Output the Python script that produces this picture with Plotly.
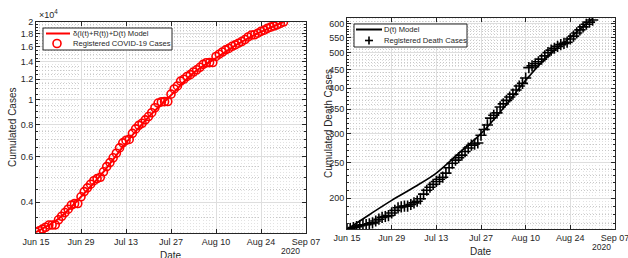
import plotly.graph_objects as go
import pandas as pd
import math

# ---------------- data ----------------
start_date = "2020-06-15"
cases = [3066, 3100, 3148, 3200, 3263, 3265, 3270, 3420, 3530, 3650,
         3760, 3900, 3950, 3955, 4200, 4400, 4550, 4700, 4850, 4940,
         5000, 5250, 5500, 5700, 5950, 6200, 6500, 6800, 6950, 7010,
         7400, 7700, 7950, 8100, 8350, 8600, 8900, 9300, 9700, 9800,
         9820, 9830, 10500, 11000, 11300, 11800, 12000, 12300, 12500, 12800,
         13050, 13350, 13700, 13900, 13920, 13930, 14700, 15000, 15300, 15600,
         15800, 16100, 16300, 16550, 16800, 17100, 17500, 17800, 17850, 18100,
         18400, 18600, 18900, 19100, 19300, 19500, 19750, 20000]
deaths = [164, 165, 166, 167, 168, 169, 169, 170, 171, 173,
          175, 177, 178, 179, 182, 185, 188, 189, 190, 190,
          192, 194, 196, 199, 205, 210, 214, 218, 222, 225,
          228, 234, 242, 249, 254, 258, 262, 268, 274, 279,
          281, 283, 297, 308, 317, 331, 337, 342, 355, 362,
          370, 378, 385, 395, 405, 412, 426, 455, 460, 466,
          472, 480, 490, 500, 508, 514, 520, 526, 530, 534,
          545, 555, 566, 577, 588, 598, 606, 614]
model_days = [0, 7, 14, 21, 28, 35, 42, 49, 56, 63, 70, 77]
cases_model = [3066, 3450, 4200, 5250, 6800, 8550, 10400, 12700, 14500, 16500, 18300, 20000]
deaths_model = [164, 180, 197, 214, 234, 265, 300, 352, 420, 490, 550, 620]

case_ticks = [4000, 6000, 8000, 10000, 12000, 14000, 16000, 18000, 20000]
case_tick_text = ["0.4", "0.6", "0.8", "1", "1.2", "1.4", "1.6", "1.8", "2"]
case_minor = [3500] + [v for v in range(4500, 20000, 500) if v % 2000 != 0]
death_ticks = [200, 250, 300, 350, 400, 450, 500, 550, 600]
death_minor = [v for v in range(170, 621, 10) if v % 50 != 0]

case_labels = ["δ(I(t)+R(t))+D(t) Model", "Registered COVID-19 Cases"]
death_labels = ["D(t) Model", "Registered Death Cases"]

# ---------------- figure ----------------
dates = pd.date_range(start_date, periods=len(cases), freq="D")
dates_d = pd.date_range(start_date, periods=len(deaths), freq="D")
mdates = pd.to_datetime(start_date) + pd.to_timedelta(model_days, unit="D")

W, H = 628, 258
def px(x):
    return x / W
def py(y):
    return 1 - y / H

FONT = "Liberation Sans, Arial, Helvetica, sans-serif"
AX = "#262626"
GRID = "#dedede"
MGRID = "#c8c8c8"
DOT = "1px,2px"

fig = go.Figure()
fig.add_trace(go.Scatter(x=mdates, y=cases_model, mode="lines", line=dict(color="red", width=2, shape="spline"),
                         name=case_labels[0], xaxis="x", yaxis="y"))
fig.add_trace(go.Scatter(x=dates, y=cases, mode="markers",
                         marker=dict(symbol="circle-open", size=8, color="red", line=dict(width=1.6, color="red")),
                         name=case_labels[1], xaxis="x", yaxis="y"))
fig.add_trace(go.Scatter(x=mdates, y=deaths_model, mode="lines", line=dict(color="black", width=1.6, shape="spline"),
                         name=death_labels[0], xaxis="x2", yaxis="y2"))
fig.add_trace(go.Scatter(x=dates_d, y=deaths, mode="markers",
                         marker=dict(symbol="cross-thin-open", size=8, color="black", line=dict(width=1.6, color="black")),
                         name=death_labels[1], xaxis="x2", yaxis="y2"))

xcommon = dict(type="date", range=["2020-06-15", "2020-09-07"], tick0="2020-06-15", dtick=14 * 86400000,
               tickformat="%b %d", ticks="inside", ticklen=4, tickcolor=AX, showline=True, linecolor=AX,
               linewidth=1, mirror="ticks", showgrid=True, gridcolor=GRID, gridwidth=1, zeroline=False,
               automargin=False, ticklabeloverflow="allow", tickfont=dict(family=FONT, size=9, color=AX),
               minor=dict(dtick=86400000, tick0="2020-06-15", showgrid=True, gridcolor="#e2e2e2", griddash=DOT,
                          gridwidth=1, ticks=""))
ycommon = dict(type="log", ticks="inside", ticklen=4, tickcolor=AX, showline=True, linecolor=AX, linewidth=1,
               mirror="ticks", showgrid=True, gridcolor=GRID, gridwidth=1, zeroline=False, automargin=False,
               ticklabeloverflow="allow", tickfont=dict(family=FONT, size=9, color=AX))

fig.update_layout(
    width=W, height=H, margin=dict(l=0, r=0, t=0, b=0),
    paper_bgcolor="white", plot_bgcolor="white",
    font=dict(family=FONT, size=9, color=AX),
    showlegend=False,
    xaxis=dict(domain=[px(36), px(306)], anchor="y", **xcommon),
    yaxis=dict(domain=[py(233), py(22)], anchor="x", range=[math.log10(3040), math.log10(20000)],
               tickvals=case_ticks, ticktext=case_tick_text,
               minor=dict(tickvals=case_minor, showgrid=True, gridcolor=MGRID, griddash=DOT, gridwidth=1,
                          ticks="inside", ticklen=2, tickcolor=AX), **ycommon),
    xaxis2=dict(domain=[px(347), px(615)], anchor="y2", **xcommon),
    yaxis2=dict(domain=[py(229), py(18)], anchor="x2", range=[math.log10(164.5), math.log10(622)],
                tickvals=death_ticks,
                minor=dict(tickvals=death_minor, showgrid=True, gridcolor=MGRID, griddash=DOT, gridwidth=1,
                           ticks="inside", ticklen=2, tickcolor=AX), **ycommon),
)

# ---- legends drawn as boxes (MATLAB style compact legend) ----
def legend_box(x0, y0, x1, y1, line_y, sym_y, sym_x, line_x0, line_x1, text_x, color, symbol, labels):
    fig.add_shape(type="rect", xref="paper", yref="paper", x0=px(x0), x1=px(x1), y0=py(y1), y1=py(y0),
                  line=dict(color=AX, width=1), fillcolor="white", layer="above")
    fig.add_shape(type="line", xref="paper", yref="paper", x0=px(line_x0), x1=px(line_x1), y0=py(line_y),
                  y1=py(line_y), line=dict(color=color, width=2), layer="above")
    r = 4
    if symbol == "circle":
        fig.add_shape(type="circle", xref="paper", yref="paper", x0=px(sym_x - r), x1=px(sym_x + r),
                      y0=py(sym_y + r), y1=py(sym_y - r), line=dict(color=color, width=1.6), layer="above")
    else:
        fig.add_shape(type="line", xref="paper", yref="paper", x0=px(sym_x - r), x1=px(sym_x + r),
                      y0=py(sym_y), y1=py(sym_y), line=dict(color=color, width=1.6), layer="above")
        fig.add_shape(type="line", xref="paper", yref="paper", x0=px(sym_x), x1=px(sym_x),
                      y0=py(sym_y - r), y1=py(sym_y + r), line=dict(color=color, width=1.6), layer="above")
    for lab, yy in zip(labels, [line_y, sym_y]):
        fig.add_annotation(text=lab, x=px(text_x), y=py(yy), xref="paper", yref="paper", showarrow=False,
                           xanchor="left", yanchor="middle", font=dict(family=FONT, size=7.6, color=AX))

legend_box(43, 28, 172, 50, 33.5, 43.5, 57, 46, 70, 71, "red", "circle", case_labels)
legend_box(354, 24, 467, 47, 29.5, 40.5, 369, 356, 382, 382, "black", "cross", death_labels)

ann = [
    dict(text="×10<sup>4</sup>", x=px(37), y=py(14), xanchor="left", font=dict(size=9)),
    dict(text="Cumulated Cases", x=px(12), y=py(128), textangle=-90, font=dict(size=10)),
    dict(text="Cumulated Death Cases", x=px(329), y=py(124), textangle=-90, font=dict(size=10)),
    dict(text="Date", x=px(171), y=py(255), font=dict(size=10)),
    dict(text="Date", x=px(481), y=py(251), font=dict(size=10)),
    dict(text="2020", x=px(302), y=py(251), xanchor="right", font=dict(size=8.5)),
    dict(text="2020", x=px(613), y=py(247), xanchor="right", font=dict(size=8.5)),
]
for a in ann:
    a.update(xref="paper", yref="paper", showarrow=False, yanchor="middle")
    a.setdefault("xanchor", "center")
    a["font"] = dict(family=FONT, color=AX, **a["font"])
    fig.add_annotation(**a)

fig.write_html("out.html", config={"displayModeBar": False},
               post_script="document.body.style.margin='0px';document.body.style.overflow='hidden';")
